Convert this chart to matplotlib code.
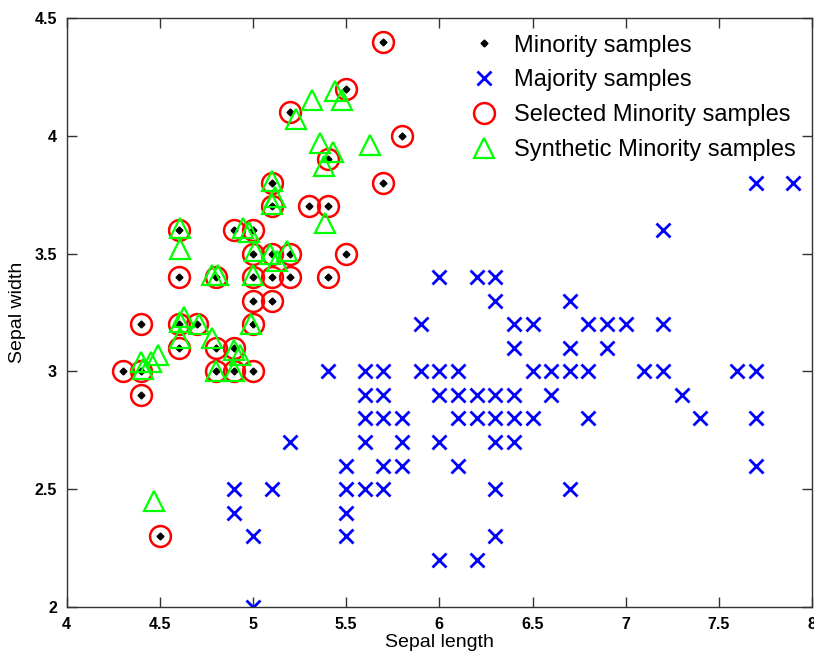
import matplotlib.pyplot as plt

plt.rcParams['font.family'] = ['Liberation Sans', 'DejaVu Sans']

# minority samples (setosa)
min_x = [5.7, 5.5, 5.2, 5.8, 5.4, 5.7, 5.1, 5.3, 5.4, 5.1, 4.6, 4.9, 5.0,
         5.5, 5.0, 5.1, 5.2, 4.6, 4.8, 5.0, 5.1, 5.2, 5.4, 5.0, 5.1,
         4.4, 4.6, 4.7, 5.0, 4.6, 4.8, 4.9, 4.3, 4.4, 4.8, 4.9, 5.0, 4.4, 4.5]
min_y = [4.4, 4.2, 4.1, 4.0, 3.9, 3.8, 3.8, 3.7, 3.7, 3.7, 3.6, 3.6, 3.6,
         3.5, 3.5, 3.5, 3.5, 3.4, 3.4, 3.4, 3.4, 3.4, 3.4, 3.3, 3.3,
         3.2, 3.2, 3.2, 3.2, 3.1, 3.1, 3.1, 3.0, 3.0, 3.0, 3.0, 3.0, 2.9, 2.3]

# majority samples (versicolor + virginica)
maj_x = [7.7, 7.9, 7.2, 6.0, 6.2, 6.3, 6.3, 6.7,
         5.9, 6.4, 6.5, 6.8, 6.9, 7.0, 7.2, 6.4, 6.7, 6.9,
         5.4, 5.6, 5.7, 5.9, 6.0, 6.1, 6.5, 6.6, 6.7, 6.8, 7.1, 7.2, 7.6, 7.7,
         5.6, 5.7, 6.0, 6.1, 6.2, 6.3, 6.4, 6.6, 7.3,
         5.6, 5.7, 5.8, 6.1, 6.2, 6.3, 6.4, 6.5, 6.8, 7.4, 7.7,
         5.2, 5.6, 5.8, 6.0, 6.3, 6.4,
         5.5, 5.7, 5.8, 6.1, 7.7,
         4.9, 5.1, 5.5, 5.6, 5.7, 6.3, 6.7,
         4.9, 5.5, 5.0, 5.5, 6.3, 6.0, 6.2, 5.0]
maj_y = [3.8, 3.8, 3.6, 3.4, 3.4, 3.4, 3.3, 3.3,
         3.2, 3.2, 3.2, 3.2, 3.2, 3.2, 3.2, 3.1, 3.1, 3.1,
         3.0, 3.0, 3.0, 3.0, 3.0, 3.0, 3.0, 3.0, 3.0, 3.0, 3.0, 3.0, 3.0, 3.0,
         2.9, 2.9, 2.9, 2.9, 2.9, 2.9, 2.9, 2.9, 2.9,
         2.8, 2.8, 2.8, 2.8, 2.8, 2.8, 2.8, 2.8, 2.8, 2.8, 2.8,
         2.7, 2.7, 2.7, 2.7, 2.7, 2.7,
         2.6, 2.6, 2.6, 2.6, 2.6,
         2.5, 2.5, 2.5, 2.5, 2.5, 2.5, 2.5,
         2.4, 2.4, 2.3, 2.3, 2.3, 2.2, 2.2, 2.0]

# selected minority samples (all of them here)
sel_x = min_x
sel_y = min_y

# synthetic minority samples
syn_x = [4.47, 4.41, 4.40, 4.45, 4.49, 4.61, 4.61, 4.63, 4.71, 4.78,
         4.80, 4.90, 4.90, 4.93, 4.99, 4.61, 4.61, 4.78, 4.81, 5.00,
         4.945, 4.98, 5.01, 5.09, 5.18, 5.13, 5.10, 5.12, 5.10,
         5.23, 5.315, 5.44, 5.48, 5.36, 5.63, 5.43, 5.38, 5.385]
syn_y = [2.45, 3.01, 3.04, 3.04, 3.07, 3.14, 3.21, 3.23, 3.20, 3.14,
         3.00, 3.00, 3.09, 3.07, 3.20, 3.61, 3.52, 3.41, 3.41, 3.41,
         3.61, 3.59, 3.51, 3.50, 3.51, 3.47, 3.81, 3.74, 3.71,
         4.07, 4.15, 4.19, 4.15, 3.97, 3.96, 3.93, 3.87, 3.63]

fig = plt.figure(figsize=(8.14, 6.54), dpi=100)
ax = fig.add_axes([0.082, 0.072, 0.9155, 0.9005])

ax.plot(min_x, min_y, 'D', color='black', markersize=3.5, linestyle='none', label='Minority samples')
ax.plot(maj_x, maj_y, 'x', color='blue', markersize=10, mew=2, linestyle='none', label='Majority samples')
ax.plot(sel_x, sel_y, 'o', mfc='none', mec='red', markersize=15, mew=1.8, linestyle='none', label='Selected Minority samples')
ax.plot(syn_x, syn_y, '^', mfc='none', mec=(0, 1, 0), markersize=15, mew=1.6, linestyle='none', label='Synthetic Minority samples')

ax.set_xlim(4, 8)
ax.set_ylim(2, 4.5)
ax.set_xticks([4, 4.5, 5, 5.5, 6, 6.5, 7, 7.5, 8])
ax.set_xticklabels(['4', '4.5', '5', '5.5', '6', '6.5', '7', '7.5', '8'])
ax.set_yticks([2, 2.5, 3, 3.5, 4, 4.5])
ax.set_yticklabels(['2', '2.5', '3', '3.5', '4', '4.5'])
ax.tick_params(direction='in', top=True, right=True, length=7, width=1, color='#333333',
               labelsize=11.5, pad=7)
for lab in ax.get_xticklabels() + ax.get_yticklabels():
    lab.set_fontweight('bold')
for s in ax.spines.values():
    s.set_color('#333333')
    s.set_linewidth(1)

ax.set_xlabel('Sepal length', fontsize=14, labelpad=2)
ax.set_ylabel('Sepal width', fontsize=14, labelpad=6)

ax.legend(loc='upper right', frameon=False, fontsize=17, labelspacing=0.55,
          handletextpad=0.5, borderaxespad=0.3, handlelength=1.5, bbox_to_anchor=(1.0, 1.0))

fig.savefig('out.png', dpi=100)
